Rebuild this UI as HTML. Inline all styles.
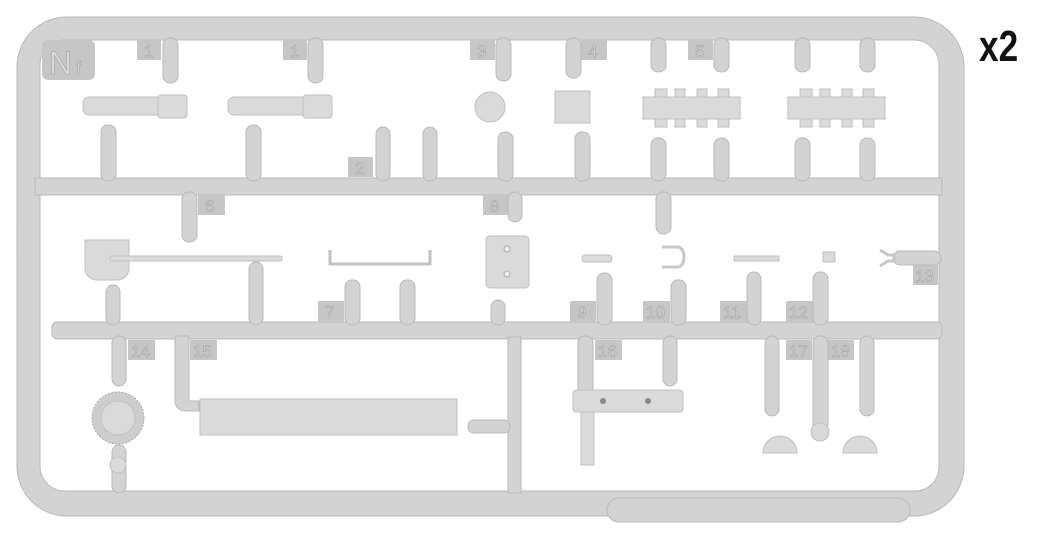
<!DOCTYPE html>
<html><head><style>
html,body{margin:0;padding:0;background:#fff;width:1040px;height:539px;overflow:hidden}
svg{display:block}
.s{fill:#d3d3d3;stroke:#b8b8b8;stroke-width:1}
.p{fill:#dadada;stroke:#c0c0c0;stroke-width:1}
.lb{fill:#c6c6c6}
.lt{fill:#dedede;font-family:"Liberation Sans",sans-serif;font-size:17px;stroke:#a6a6a6;stroke-width:0.7}
</style></head><body>
<svg width="1040" height="539" viewBox="0 0 1040 539" xmlns="http://www.w3.org/2000/svg">
<path d="M67,17 H914 A50,50 0 0 1 964,67 V466 A50,50 0 0 1 914,516 H67 A50,50 0 0 1 17,466 V67 A50,50 0 0 1 67,17 Z M65,40 A25,25 0 0 0 40,65 V465 A25,25 0 0 0 65,491 H915 A24,24 0 0 0 939,467 V65 A25,25 0 0 0 914,40 Z" fill="#d3d3d3" stroke="#b8b8b8" fill-rule="evenodd"/>
<rect x="607" y="498" width="303" height="24" rx="12" class="s"/>
<rect x="35" y="178" width="907" height="17" class="s"/>
<rect x="52" y="322" width="890" height="17" rx="5" class="s"/>
<rect x="508" y="337" width="13" height="156" class="s"/>
<rect x="42" y="40" width="53" height="40" rx="6" class="lb"/>
<text x="49" y="74" class="lt" style="font-size:32px">N</text><text x="76" y="74" class="lt" style="font-size:18px">f</text>
<g>
<rect x="137" y="40" width="24" height="20" class="lb"/><text x="144" y="57" class="lt">1</text>
<rect x="283" y="40" width="24" height="20" class="lb"/><text x="290" y="57" class="lt">1</text>
<rect x="470" y="40" width="25" height="20" class="lb"/><text x="477" y="57" class="lt">3</text>
<rect x="581" y="40" width="26" height="20" class="lb"/><text x="588" y="57" class="lt">4</text>
<rect x="688" y="40" width="25" height="20" class="lb"/><text x="695" y="57" class="lt">5</text>
<rect x="348" y="157" width="25" height="20" class="lb"/><text x="355" y="174" class="lt">2</text>
<rect x="198" y="195" width="27" height="20" class="lb"/><text x="205" y="212" class="lt">6</text>
<rect x="483" y="195" width="25" height="20" class="lb"/><text x="490" y="212" class="lt">8</text>
<rect x="318" y="301" width="26" height="21" class="lb"/><text x="325" y="318" class="lt">7</text>
<rect x="570" y="301" width="26" height="21" class="lb"/><text x="577" y="318" class="lt">9</text>
<rect x="643" y="301" width="27" height="21" class="lb"/><text x="646" y="318" class="lt">10</text>
<rect x="720" y="301" width="27" height="21" class="lb"/><text x="723" y="318" class="lt">11</text>
<rect x="786" y="301" width="27" height="21" class="lb"/><text x="789" y="318" class="lt">12</text>
<rect x="913" y="265" width="25" height="20" class="lb"/><text x="915" y="282" class="lt">13</text>
<rect x="128" y="340" width="27" height="20" class="lb"/><text x="131" y="357" class="lt">14</text>
<rect x="190" y="340" width="27" height="20" class="lb"/><text x="193" y="357" class="lt">15</text>
<rect x="595" y="340" width="27" height="20" class="lb"/><text x="598" y="357" class="lt">16</text>
<rect x="786" y="340" width="26" height="20" class="lb"/><text x="789" y="357" class="lt">17</text>
<rect x="828" y="340" width="26" height="20" class="lb"/><text x="831" y="357" class="lt">18</text>
</g>
<g class="s">
<rect x="163" y="38" width="15" height="45" rx="7"/><rect x="308" y="38" width="15" height="45" rx="7"/>
<rect x="496" y="38" width="15" height="43" rx="7"/><rect x="566" y="38" width="15" height="40" rx="7"/>
<rect x="651" y="38" width="15" height="34" rx="7"/><rect x="714" y="38" width="15" height="34" rx="7"/>
<rect x="795" y="38" width="15" height="34" rx="7"/><rect x="860" y="38" width="15" height="34" rx="7"/>
<rect x="101" y="125" width="15" height="56" rx="7"/><rect x="246" y="125" width="15" height="56" rx="7"/>
<rect x="376" y="127" width="14" height="54" rx="7"/><rect x="423" y="127" width="14" height="54" rx="7"/>
<rect x="498" y="132" width="15" height="49" rx="7"/><rect x="575" y="132" width="15" height="49" rx="7"/>
<rect x="651" y="138" width="15" height="43" rx="7"/><rect x="714" y="138" width="15" height="43" rx="7"/>
<rect x="795" y="138" width="15" height="43" rx="7"/><rect x="860" y="138" width="15" height="43" rx="7"/>
<rect x="182" y="192" width="15" height="50" rx="7"/><rect x="508" y="192" width="14" height="30" rx="7"/>
<rect x="656" y="192" width="15" height="42" rx="7"/>
<rect x="106" y="285" width="14" height="40" rx="7"/><rect x="249" y="262" width="14" height="63" rx="7"/>
<rect x="345" y="280" width="15" height="45" rx="7"/><rect x="400" y="280" width="15" height="45" rx="7"/>
<rect x="491" y="300" width="14" height="25" rx="7"/><rect x="597" y="273" width="15" height="52" rx="7"/>
<rect x="671" y="280" width="15" height="45" rx="7"/><rect x="747" y="272" width="14" height="53" rx="7"/>
<rect x="813" y="272" width="15" height="53" rx="7"/>
<rect x="893" y="251" width="48" height="14" rx="7"/>
<rect x="112" y="336" width="14" height="50" rx="7"/><rect x="112" y="445" width="14" height="48" rx="7"/>
<rect x="578" y="336" width="15" height="60" rx="7"/><rect x="663" y="336" width="14" height="50" rx="7"/>
<rect x="765" y="336" width="14" height="80" rx="7"/><rect x="813" y="336" width="15" height="95" rx="7"/>
<rect x="860" y="336" width="14" height="80" rx="7"/>
<path d="M175,336 h14 v65 h10 v10 h-14 a10,10 0 0 1 -10,-10 z"/>
<rect x="468" y="420" width="42" height="13" rx="6"/>
</g>
<g class="p">
<rect x="83" y="97" width="80" height="18" rx="6"/><rect x="158" y="95" width="29" height="23" rx="3"/>
<rect x="228" y="97" width="80" height="18" rx="6"/><rect x="303" y="95" width="29" height="23" rx="3"/>
<circle cx="490" cy="107" r="15"/>
<rect x="555" y="91" width="35" height="32"/>
<rect x="655" y="89" width="12" height="38"/><rect x="675" y="89" width="10" height="38"/><rect x="697" y="89" width="10" height="38"/><rect x="718" y="89" width="11" height="38"/>
<rect x="643" y="97" width="97" height="22"/>
<rect x="800" y="89" width="12" height="38"/><rect x="820" y="89" width="10" height="38"/><rect x="842" y="89" width="10" height="38"/><rect x="863" y="89" width="11" height="38"/>
<rect x="788" y="97" width="97" height="22"/>
<path d="M85,240 h44 v28 a12,12 0 0 1 -12,12 h-20 a12,12 0 0 1 -12,-12 z"/>
<rect x="110" y="256" width="172" height="5" rx="2"/>
<path d="M330,250 v14 h100 v-14" fill="none" stroke="#c2c2c2" stroke-width="3"/>
<rect x="486" y="236" width="43" height="52" rx="4"/>
<rect x="582" y="255" width="30" height="7" rx="3"/>
<path d="M662,247 h16 a6,10 0 0 1 0,20 h-16" fill="none" stroke="#c8c8c8" stroke-width="3"/>
<rect x="734" y="256" width="45" height="5"/>
<rect x="823" y="252" width="12" height="10"/>
<path d="M880,250 l8,5 h6 v6 h-6 l-8,5" fill="none" stroke="#c8c8c8" stroke-width="3"/>
<circle cx="118" cy="418" r="26" fill="#cdcdcd" stroke="#aaa" stroke-dasharray="2 1.5"/>
<circle cx="118" cy="418" r="17"/>
<circle cx="118" cy="465" r="8"/>
<rect x="200" y="399" width="257" height="36"/>
<rect x="573" y="390" width="110" height="22" rx="3"/>
<rect x="581" y="412" width="13" height="53"/>
<path d="M763,453 a17,17 0 0 1 34,0 z"/><path d="M843,453 a17,17 0 0 1 34,0 z"/>
<circle cx="820" cy="432" r="9"/>
</g>
<circle cx="603" cy="401" r="3" fill="#888"/><circle cx="648" cy="401" r="3" fill="#888"/>
<circle cx="507" cy="249" r="3" fill="#eee" stroke="#aaa"/><circle cx="507" cy="274" r="3" fill="#eee" stroke="#aaa"/>
<text x="0" y="0" font-family="Liberation Sans, sans-serif" font-weight="bold" font-size="44" fill="#111" transform="translate(979,61) scale(0.8,1)">x2</text>
</svg>
</body></html>
